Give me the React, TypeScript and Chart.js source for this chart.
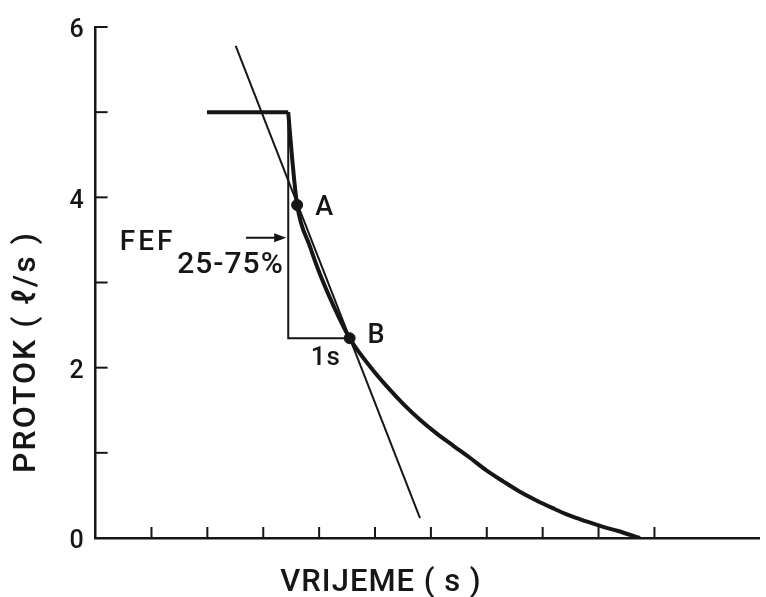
import React, { useEffect, useRef } from 'react';
import { Chart, registerables } from 'chart.js';

Chart.register(...registerables);

// Flow–time curve (time in axis tick units, flow in l/s)
const stepTime = [1.993, 3.447];
const stepFlow = [5, 5];
const curveTime = [3.447, 3.518, 3.606, 3.837, 3.996, 4.262, 4.546, 4.918, 5.22, 5.521, 5.805, 6.106, 6.408, 6.691, 6.993, 7.294, 7.578, 7.879, 8.181, 8.465, 8.766, 9.067, 9.351, 9.741];
const curveFlow = [5.0, 4.45, 3.91, 3.42, 3.128, 2.72, 2.346, 2.008, 1.774, 1.564, 1.389, 1.226, 1.08, 0.945, 0.794, 0.665, 0.549, 0.444, 0.35, 0.268, 0.198, 0.134, 0.082, 0];
// chord through A and B
const chordTime = [2.507, 5.805];
const chordFlow = [5.778, 0.233];
// 1 s bracket
const bracketTime = [3.447, 3.447, 4.546];
const bracketFlow = [5, 2.346, 2.346];
// points A and B
const markerTime = [3.606, 4.546];
const markerFlow = [3.91, 2.346];
// FEF arrow
const arrowTime = [2.69, 3.41];
const arrowFlow = [3.525, 3.525];

const yTickLabels = ['0', '', '2', '', '4', '', '6'];
const xTitle = 'VRIJEME ( s )';
const yTitle = 'PROTOK ( ℓ/s )';

const annotations = [
  { text: 'A', x: 3.93, y: 3.875, size: 27, spacing: 0 },
  { text: 'B', x: 4.865, y: 2.37, size: 27, spacing: 0 },
  { text: '1s', x: 3.85, y: 2.113, size: 26, spacing: 1 },
  { text: 'FEF', x: 0.432, y: 3.467, size: 28, spacing: 3 },
  { text: '25-75%', x: 1.461, y: 3.198, size: 30, spacing: 1 },
];

const FONT = 'Roboto, "Liberation Sans", Arial, sans-serif';
const WEIGHT = 500;
const INK = '#161616';

const zip = (xs: number[], ys: number[]) => xs.map((x, i) => ({ x, y: ys[i] }));

const overlay = {
  id: 'overlay',
  afterDraw(chart: any) {
    const { ctx, scales, chartArea } = chart;
    const xs = scales.x;
    const ys = scales.y;
    ctx.save();
    ctx.strokeStyle = INK;
    ctx.fillStyle = INK;
    // inner ticks
    ctx.lineWidth = 2;
    ys.ticks.forEach((t: any) => {
      if (t.value <= 0) return;
      const py = ys.getPixelForValue(t.value);
      ctx.beginPath();
      ctx.moveTo(chartArea.left, py);
      ctx.lineTo(chartArea.left + 12, py);
      ctx.stroke();
    });
    xs.ticks.forEach((t: any) => {
      if (t.value <= 0 || !Number.isInteger(t.value)) return;
      const px = xs.getPixelForValue(t.value);
      ctx.beginPath();
      ctx.moveTo(px, chartArea.bottom);
      ctx.lineTo(px, chartArea.bottom - 11);
      ctx.stroke();
    });
    // arrow
    const ax0 = xs.getPixelForValue(arrowTime[0]);
    const ax1 = xs.getPixelForValue(arrowTime[1]);
    const ay = ys.getPixelForValue(arrowFlow[0]);
    ctx.lineWidth = 2;
    ctx.beginPath();
    ctx.moveTo(ax0, ay);
    ctx.lineTo(ax1 - 6, ay);
    ctx.stroke();
    ctx.beginPath();
    ctx.moveTo(ax1, ay);
    ctx.lineTo(ax1 - 12, ay - 4.5);
    ctx.lineTo(ax1 - 12, ay + 4.5);
    ctx.closePath();
    ctx.fill();
    // labels
    ctx.textAlign = 'left';
    ctx.textBaseline = 'middle';
    annotations.forEach((a) => {
      ctx.font = `${WEIGHT} ${a.size}px ${FONT}`;
      ctx.letterSpacing = `${a.spacing}px`;
      ctx.fillText(a.text, xs.getPixelForValue(a.x), ys.getPixelForValue(a.y));
    });
    // axis titles
    ctx.font = `${WEIGHT} 31px ${FONT}`;
    ctx.letterSpacing = '1px';
    ctx.textAlign = 'center';
    ctx.fillText(xTitle, 381, 583);
    ctx.save();
    ctx.translate(27, 352);
    ctx.rotate(-Math.PI / 2);
    ctx.font = `${WEIGHT} 32px ${FONT}`;
    ctx.letterSpacing = '2px';
    ctx.fillText(yTitle, 0, 0);
    ctx.restore();
    ctx.restore();
  },
};

export default function App() {
  const ref = useRef<HTMLCanvasElement>(null);
  useEffect(() => {
    if (!ref.current) return;
    const chart = new Chart(ref.current, {
      type: 'line',
      data: {
        datasets: [
          { data: zip(stepTime, stepFlow), borderColor: INK, borderWidth: 4, pointRadius: 0, tension: 0 },
          { data: zip(curveTime, curveFlow), borderColor: INK, borderWidth: 4, pointRadius: 0, cubicInterpolationMode: 'monotone' },
          { data: zip(chordTime, chordFlow), borderColor: INK, borderWidth: 2, pointRadius: 0, tension: 0 },
          { data: zip(bracketTime, bracketFlow), borderColor: INK, borderWidth: 2, pointRadius: 0, tension: 0 },
          { data: zip(markerTime, markerFlow), showLine: false, pointRadius: 5.5, pointBackgroundColor: INK, pointBorderColor: INK },
        ] as any,
      },
      options: {
        animation: false,
        responsive: false,
        events: [],
        layout: { padding: { left: 0, right: 0, top: 24, bottom: 59 } },
        plugins: { legend: { display: false }, tooltip: { enabled: false }, title: { display: false } },
        scales: {
          x: {
            type: 'linear',
            min: 0,
            max: 11.88,
            ticks: { display: false, stepSize: 1 },
            grid: { display: true, drawOnChartArea: false, drawTicks: false },
            border: { display: true, color: INK, width: 2.5 },
            afterFit: (s: any) => { s.height = 0; },
          },
          y: {
            type: 'linear',
            min: 0,
            max: 6,
            ticks: {
              stepSize: 1,
              padding: 12,
              labelOffset: 4,
              color: INK,
              font: { family: FONT, size: 25, weight: WEIGHT as any },
              callback: (v: any) => yTickLabels[Math.round(Number(v))] ?? '',
            },
            grid: { display: true, drawOnChartArea: false, drawTicks: false },
            border: { display: true, color: INK, width: 2.5 },
            afterFit: (s: any) => { s.width = 95.6; },
          },
        },
      },
      plugins: [overlay],
    });
    return () => chart.destroy();
  }, []);
  return (
    <div style={{ position: 'fixed', left: 0, top: 0, width: 766, height: 597, background: '#fff' }}>
      <canvas ref={ref} width={766} height={597} style={{ display: 'block' }} />
    </div>
  );
}
